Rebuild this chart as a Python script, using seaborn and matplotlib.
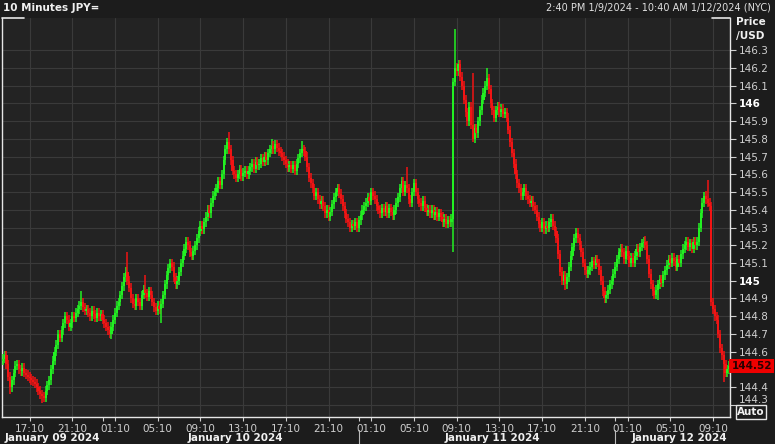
import numpy as np
import pandas as pd
import matplotlib
matplotlib.use('Agg')
import matplotlib.pyplot as plt
import matplotlib.transforms as mtransforms
from matplotlib.lines import Line2D
import seaborn as sns

sns.set_style('dark')
plt.rcParams['font.family'] = ['DejaVu Sans']

# 10-minute closes, one row per hour, 14:40 Jan 9 -> 10:40 Jan 12
closes = [
    144.56, 144.58, 144.53, 144.46, 144.40, 144.44,
    144.48, 144.52, 144.53, 144.50, 144.49, 144.51,
    144.48, 144.47, 144.46, 144.45, 144.44, 144.43,
    144.42, 144.40, 144.38, 144.36, 144.35, 144.34,
    144.38, 144.41, 144.44, 144.50, 144.55, 144.60,
    144.64, 144.70, 144.68, 144.72, 144.76, 144.80,
    144.78, 144.74, 144.76, 144.80, 144.79, 144.82,
    144.84, 144.86, 144.88, 144.85, 144.83, 144.84,
    144.82, 144.80, 144.83, 144.81, 144.79, 144.82,
    144.80, 144.81, 144.78, 144.76, 144.74, 144.72,
    144.70, 144.74, 144.78, 144.82, 144.86, 144.88,
    144.92, 144.97, 145.02, 145.05, 145.00, 144.96,
    144.90, 144.87, 144.86, 144.90, 144.88, 144.86,
    144.92, 144.95, 144.93, 144.91, 144.94, 144.92,
    144.88, 144.85, 144.83, 144.86, 144.84, 144.87,
    144.92, 144.98, 145.03, 145.07, 145.10, 145.08,
    145.02, 144.98, 145.00, 145.05, 145.10, 145.14,
    145.18, 145.22, 145.20, 145.16, 145.14, 145.17,
    145.20, 145.24, 145.28, 145.31, 145.29, 145.33,
    145.36, 145.40, 145.38, 145.44, 145.48, 145.50,
    145.52, 145.56, 145.54, 145.60, 145.68, 145.74,
    145.78, 145.74, 145.68, 145.62, 145.60, 145.58,
    145.60, 145.63, 145.59, 145.61, 145.62, 145.60,
    145.62, 145.64, 145.66, 145.63, 145.67, 145.65,
    145.66, 145.69, 145.67, 145.70, 145.68, 145.72,
    145.74, 145.76, 145.74, 145.77, 145.75, 145.73,
    145.72, 145.70, 145.68, 145.66, 145.64, 145.65,
    145.63, 145.65, 145.62, 145.66, 145.69, 145.72,
    145.74, 145.73, 145.70, 145.64, 145.58, 145.55,
    145.52, 145.48, 145.50, 145.46, 145.43, 145.45,
    145.42, 145.38, 145.40, 145.36, 145.39, 145.43,
    145.47, 145.50, 145.52, 145.49, 145.46, 145.42,
    145.38, 145.35, 145.33, 145.30, 145.32, 145.31,
    145.33, 145.30, 145.34, 145.37, 145.40, 145.42,
    145.44, 145.47, 145.45, 145.50, 145.48, 145.46,
    145.42, 145.40, 145.38, 145.41, 145.39, 145.42,
    145.38, 145.41, 145.39, 145.37, 145.40, 145.44,
    145.47, 145.52, 145.56, 145.50, 145.54, 145.52,
    145.46, 145.44, 145.50, 145.55, 145.50, 145.46,
    145.44, 145.42, 145.45, 145.41, 145.39, 145.40,
    145.38, 145.40, 145.37, 145.39, 145.36, 145.38,
    145.36, 145.33, 145.35, 145.32, 145.34, 145.33,
    145.35, 146.12, 146.20, 146.18, 146.22, 146.15,
    146.10, 146.02, 145.95, 145.90, 145.98, 145.88,
    145.80, 145.86, 145.83, 145.90, 145.96, 146.02,
    146.06, 146.10, 146.14, 146.08, 146.00, 145.96,
    145.92, 145.96, 145.98, 145.95, 145.97, 145.94,
    145.95, 145.92, 145.85, 145.78, 145.72, 145.66,
    145.60, 145.55, 145.52, 145.48, 145.50, 145.52,
    145.48, 145.46, 145.44, 145.45, 145.42, 145.40,
    145.36, 145.32, 145.30, 145.33, 145.29, 145.31,
    145.30, 145.33, 145.35, 145.31, 145.28, 145.24,
    145.15, 145.05, 145.00, 145.03, 144.98, 145.02,
    145.08, 145.14, 145.19, 145.24, 145.27, 145.24,
    145.20, 145.16, 145.10, 145.06, 145.04, 145.06,
    145.08, 145.11, 145.09, 145.12, 145.10, 145.06,
    145.00, 144.94, 144.90, 144.92, 144.95, 144.98,
    145.00, 145.04, 145.08, 145.12, 145.16, 145.18,
    145.16, 145.12, 145.17, 145.14, 145.10, 145.13,
    145.10, 145.14, 145.18, 145.16, 145.19, 145.21,
    145.22, 145.20, 145.12, 145.04, 144.98, 144.94,
    144.92, 144.95, 144.98, 145.01, 144.99, 145.03,
    145.06, 145.09, 145.12, 145.10, 145.13, 145.11,
    145.08, 145.12, 145.10, 145.15, 145.18, 145.20,
    145.22, 145.19, 145.21, 145.18, 145.22, 145.20,
    145.22, 145.30, 145.38, 145.44, 145.48, 145.46,
    145.44, 145.42, 144.88, 144.84, 144.80, 144.78,
    144.70, 144.62, 144.58, 144.53, 144.48, 144.50,
    144.52,
]
first_open = 144.55
last_price = 144.52

# long wicks (candle index, price)
high_idx = [44, 70, 80, 127, 151, 168, 227, 254, 264, 272, 361, 394, 396]
high_val = [144.94, 145.16, 145.03, 145.84, 145.80, 145.79, 145.64, 146.42, 146.17, 146.20, 145.25, 145.50, 145.57]
low_idx = [4, 22, 61, 89, 253, 264, 316, 368, 405]
low_val = [144.36, 144.31, 144.67, 144.76, 145.16, 145.78, 144.95, 144.89, 144.43]

time_labels = ['17:10', '21:10', '01:10', '05:10', '09:10', '13:10', '17:10', '21:10', '01:10',
               '05:10', '09:10', '13:10', '17:10', '21:10', '01:10', '05:10', '09:10']
time_idx = [15, 39, 63, 87, 111, 135, 159, 183, 207, 231, 255, 279, 303, 327, 351, 375, 399]
midnight_idx = [56, 200, 344]
date_labels = ['January 09 2024', 'January 10 2024', 'January 11 2024', 'January 12 2024']
date_x = [5, 188, 445, 632]
price_ticks = [144.3, 144.4, 144.5, 144.6, 144.7, 144.8, 144.9, 145.0, 145.1, 145.2, 145.3,
               145.4, 145.5, 145.6, 145.7, 145.8, 145.9, 146.0, 146.1, 146.2, 146.3]

df = pd.DataFrame({'close': closes})
df['open'] = df['close'].shift(1).fillna(first_open)
wick = 0.025
df['high'] = df[['open', 'close']].max(axis=1) + wick
df['low'] = df[['open', 'close']].min(axis=1) - wick
df.loc[high_idx, 'high'] = high_val
df.loc[low_idx, 'low'] = low_val
df['up'] = df['close'] >= df['open']
col = np.where(df['up'], '#22f022', '#f21414')

W, H = 775, 444
fig = plt.figure(figsize=(W / 100, H / 100), dpi=100, facecolor='#1c1c1c')
ax = fig.add_axes([2 / W, 27 / H, 728 / W, 399 / H])
ax.set_facecolor('#232323')

ax.vlines(df.index, df['low'], df['high'], colors=col, linewidth=1.1, zorder=3)
body = (df['close'] - df['open']).abs().clip(lower=0.008)
ax.bar(df.index, body, bottom=df[['open', 'close']].min(axis=1), width=1.2,
       color=col, linewidth=0, zorder=4, antialiased=False)

ax.set_xlim(-0.5, 408.5)
ax.set_ylim(144.232, 146.481)

ax.set_xticks(time_idx)
ax.set_xticklabels(time_labels)
ax.set_xticks(midnight_idx, minor=True)
ax.tick_params(axis='x', which='both', colors='#cfcfcf', length=3, width=0.8, pad=2,
               labelsize=7.5, direction='out', bottom=True)

ax.yaxis.tick_right()
ax.set_yticks(price_ticks)
ax.set_yticklabels([('%g' % v) for v in price_ticks])
ax.tick_params(axis='y', colors='#d0d0d0', length=4, width=0.8, pad=2, labelsize=7.5, right=True)
for lab, v in zip(ax.get_yticklabels(), price_ticks):
    if abs(v - round(v)) < 1e-9:
        lab.set_fontweight('bold')
        lab.set_color('#ffffff')
    if abs(v - 144.5) < 1e-9:
        lab.set_visible(False)
    if abs(v - 144.3) < 1e-9:
        # squeezed above the Auto box like the reference
        lab.set_transform(lab.get_transform() +
                          mtransforms.ScaledTranslation(0, 4 / 72, fig.dpi_scale_trans))

ax.grid(True, which='major', color='#3a3a3a', linewidth=0.8)
ax.set_axisbelow(True)

for s in ['left', 'bottom', 'right']:
    ax.spines[s].set_visible(True)
    ax.spines[s].set_color('#e6e6e6')
    ax.spines[s].set_linewidth(1)
ax.spines['top'].set_visible(False)
ax.plot([0, 0.03], [1, 1], transform=ax.transAxes, clip_on=False, color='#e6e6e6', lw=1.2)
ax.plot([0.975, 1], [1, 1], transform=ax.transAxes, clip_on=False, color='#e6e6e6', lw=1.2)

# last price box
tr = mtransforms.blended_transform_factory(ax.transAxes, ax.transData)
ax.text(1.002, last_price, '144.52', transform=tr, ha='left', va='center', fontsize=7.5,
        fontweight='bold', color='#2a0000', zorder=10,
        bbox=dict(boxstyle='square,pad=0.2', facecolor='#ee0000', edgecolor='none'))

# header texts
fig.text(3 / W, 1 - 8 / H, '10 Minutes JPY=', color='#f0f0f0', fontsize=7.5,
         fontweight='bold', ha='left', va='center')
fig.text(771 / W, 1 - 8 / H, '2:40 PM 1/9/2024 - 10:40 AM 1/12/2024 (NYC)', color='#e0e0e0',
         fontsize=7, ha='right', va='center')
fig.text(736 / W, 1 - 22 / H, 'Price', color='#f0f0f0', fontsize=7.5, fontweight='bold', va='center')
fig.text(736 / W, 1 - 36 / H, '/USD', color='#f0f0f0', fontsize=7.5, fontweight='bold', va='center')
fig.text(751 / W, 1 - 412 / H, 'Auto', color='#f0f0f0', fontsize=7.5, fontweight='bold',
         ha='center', va='center',
         bbox=dict(boxstyle='square,pad=0.15', facecolor='none', edgecolor='#e6e6e6', lw=1))

# date row
for lab, x in zip(date_labels, date_x):
    fig.text(x / W, 1 - 438 / H, lab, color='#f0f0f0', fontsize=7.5, fontweight='bold',
             ha='left', va='center')
tr2 = mtransforms.blended_transform_factory(ax.transData, fig.transFigure)
for m in midnight_idx[1:]:
    fig.add_artist(Line2D([m, m], [0, 14 / H], transform=tr2, color='#bbbbbb', lw=0.8))

fig.savefig('out.png', dpi=100, facecolor=fig.get_facecolor())
plt.close()
